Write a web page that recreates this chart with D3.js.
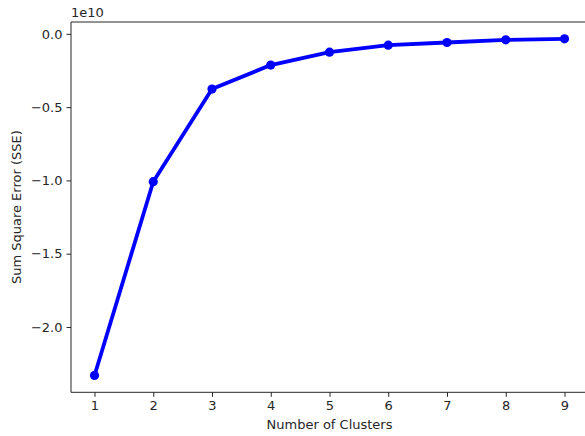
<!DOCTYPE html>
<html>
<head>
<meta charset="utf-8">
<script src="https://d3js.org/d3.v7.min.js"></script>
<style>
  body { margin: 0; background: #ffffff; overflow: hidden; }
  text { font-family: "DejaVu Sans", sans-serif; fill: #262626; }
</style>
</head>
<body>
<script>
// elbow curve data
var clusters = [1, 2, 3, 4, 5, 6, 7, 8, 9];
var sse = [-2.331e10, -1.009e10, -0.377e10, -0.213e10, -0.125e10, -0.077e10, -0.059e10, -0.041e10, -0.034e10];
var yTicks = [0, -0.5e10, -1.0e10, -1.5e10, -2.0e10];

var w = 585, h = 436;
var margin = { left: 71, top: 22 };
var plotW = 517, plotH = 370.3;
var fs = "13px";

var svg = d3.select("body").append("svg")
  .attr("width", w)
  .attr("height", h)
  .style("display", "block");

// matplotlib-like 5% margins
var x = d3.scaleLinear().domain([0.6, 9.4]).range([margin.left, margin.left + plotW]);
var yMin = d3.min(sse), yMax = d3.max(sse), pad = (yMax - yMin) * 0.05;
var y = d3.scaleLinear().domain([yMin - pad, yMax + pad]).range([margin.top + plotH, margin.top]);

function fmt(v) {
  return d3.format(".1f")(v / 1e10).replace("-", "\u2212");
}

// axes
svg.append("g")
  .attr("transform", "translate(0," + (margin.top + plotH) + ")")
  .call(d3.axisBottom(x).tickValues(clusters).tickFormat(d3.format("d")).tickSizeOuter(0).tickSize(4.5).tickPadding(4));

svg.append("g")
  .attr("transform", "translate(" + margin.left + ",0)")
  .call(d3.axisLeft(y).tickValues(yTicks).tickFormat(fmt).tickSizeOuter(0).tickSize(4.5).tickPadding(4));

svg.selectAll(".tick text").style("font-size", fs).attr("fill", "#262626");
svg.selectAll(".tick line").attr("stroke", "#262626").attr("stroke-width", 1);
svg.selectAll(".domain").remove();

// spines (right one falls outside the canvas)
var spines = [
  [margin.left, margin.top, margin.left, margin.top + plotH],
  [margin.left, margin.top, w, margin.top],
  [margin.left, margin.top + plotH, w, margin.top + plotH]
];
svg.selectAll("line.spine")
  .data(spines)
  .enter()
  .append("line")
  .attr("class", "spine")
  .attr("x1", function(d) { return d[0]; })
  .attr("y1", function(d) { return d[1]; })
  .attr("x2", function(d) { return d[2]; })
  .attr("y2", function(d) { return d[3]; })
  .attr("stroke", "#262626")
  .attr("stroke-width", 1);

// line + markers
var line = d3.line()
  .x(function(d, i) { return x(clusters[i]); })
  .y(function(d) { return y(d); });

svg.append("path")
  .datum(sse)
  .attr("d", line)
  .attr("fill", "none")
  .attr("stroke", "#0000ff")
  .attr("stroke-width", 3.8)
  .attr("stroke-linejoin", "round");

svg.selectAll("circle.pt")
  .data(sse)
  .enter()
  .append("circle")
  .attr("class", "pt")
  .attr("cx", function(d, i) { return x(clusters[i]); })
  .attr("cy", function(d) { return y(d); })
  .attr("r", 4.6)
  .attr("fill", "#0000ff");

// offset text
svg.append("text")
  .attr("x", margin.left)
  .attr("y", 17)
  .style("font-size", fs)
  .text("1e10");

// labels
svg.append("text")
  .attr("x", margin.left + plotW / 2)
  .attr("y", 429)
  .attr("text-anchor", "middle")
  .style("font-size", fs)
  .text("Number of Clusters");

svg.append("text")
  .attr("transform", "translate(21," + (margin.top + plotH / 2) + ") rotate(-90)")
  .attr("text-anchor", "middle")
  .style("font-size", fs)
  .text("Sum Square Error (SSE)");
</script>
</body>
</html>
